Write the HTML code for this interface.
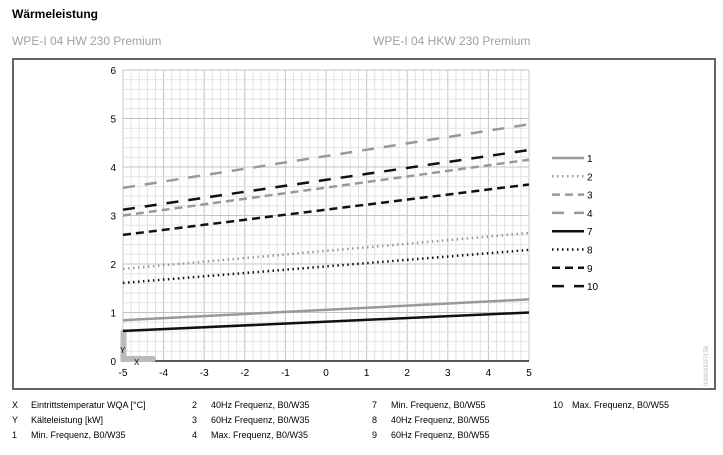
<!DOCTYPE html><html><head><meta charset="utf-8"><style>
body{margin:0;width:723px;height:450px;background:#fff;overflow:hidden;font-family:"Liberation Sans",sans-serif}
</style></head><body>
<svg id="s" width="723" height="450" xmlns="http://www.w3.org/2000/svg" font-family="Liberation Sans, sans-serif">
<text x="12" y="18" font-size="12" font-weight="bold" fill="#000">Wärmeleistung</text>
<text x="12" y="45" font-size="12" fill="#a0a0a0">WPE-I 04 HW 230 Premium</text>
<text x="373" y="45" font-size="12" fill="#a0a0a0">WPE-I 04 HKW 230 Premium</text>
<rect x="13" y="59" width="702" height="330" fill="none" stroke="#666" stroke-width="2"/>
<g id="g"></g>
<text x="708" y="386" font-size="6" fill="#bbb" transform="rotate(-90 708 386)">000000097156</text>
<g font-size="9" fill="#000">
<text x="12" y="408">X</text><text x="31" y="408">Eintrittstemperatur WQA [°C]</text>
<text x="12" y="423">Y</text><text x="31" y="423">Kälteleistung [kW]</text>
<text x="12" y="438">1</text><text x="31" y="438">Min. Frequenz, B0/W35</text>
<text x="192" y="408">2</text><text x="211" y="408">40Hz Frequenz, B0/W35</text>
<text x="192" y="423">3</text><text x="211" y="423">60Hz Frequenz, B0/W35</text>
<text x="192" y="438">4</text><text x="211" y="438">Max. Frequenz, B0/W35</text>
<text x="372" y="408">7</text><text x="391" y="408">Min. Frequenz, B0/W55</text>
<text x="372" y="423">8</text><text x="391" y="423">40Hz Frequenz, B0/W55</text>
<text x="372" y="438">9</text><text x="391" y="438">60Hz Frequenz, B0/W55</text>
<text x="553" y="408">10</text><text x="572" y="408">Max. Frequenz, B0/W55</text>
</g>
</svg>
<script>
var g=document.getElementById('g'),h='';
var X=v=>123+(v+5)*40.6, Y=v=>361-v*48.5;
for(var i=0;i<=50;i++){var x=X(-5+i*0.2);h+='<line x1="'+x+'" y1="70" x2="'+x+'" y2="361" stroke="'+(i%5?'#e2e2e2':'#c4c4c4')+'" stroke-width="1"/>';}
for(var i=0;i<=30;i++){var y=Y(i*0.2);h+='<line x1="123" y1="'+y+'" x2="529" y2="'+y+'" stroke="'+(i%5?'#e2e2e2':'#c4c4c4')+'" stroke-width="1"/>';}
h+='<line x1="123" y1="361" x2="529" y2="361" stroke="#222" stroke-width="1.5"/>';
h+='<path d="M123.5 332 V359 H153" fill="none" stroke="#bbb" stroke-width="6" stroke-linecap="round"/>';
h+='<text x="120" y="353" font-size="8">Y</text><text x="134" y="365" font-size="8">X</text>';
for(var i=0;i<=6;i++)h+='<text x="116" y="'+(Y(i)+4)+'" font-size="10" text-anchor="end">'+i+'</text>';
for(var i=-5;i<=5;i++)h+='<text x="'+X(i)+'" y="376" font-size="10" text-anchor="middle">'+i+'</text>';
var L=[['#999','',0.84,1.27,'1'],['#999','1.5 3.5',1.9,2.64,'2'],['#999','8 5',3.0,4.15,'3'],['#999','12 10',3.57,4.88,'4'],['#111','',0.62,1.0,'7'],['#111','1.5 3.5',1.61,2.29,'8'],['#111','8 5',2.6,3.64,'9'],['#111','12 10',3.12,4.35,'10']];
L.forEach(function(l,k){h+='<line x1="123" y1="'+Y(l[2])+'" x2="529" y2="'+Y(l[3])+'" stroke="'+l[0]+'" stroke-width="2.5" stroke-dasharray="'+l[1]+'"/>';
var ly=158+k*18.3;h+='<line x1="552" y1="'+ly+'" x2="584" y2="'+ly+'" stroke="'+l[0]+'" stroke-width="2.5" stroke-dasharray="'+l[1]+'"/><text x="587" y="'+(ly+4)+'" font-size="10">'+l[4]+'</text>';});
g.innerHTML=h;
</script>
</body></html>
